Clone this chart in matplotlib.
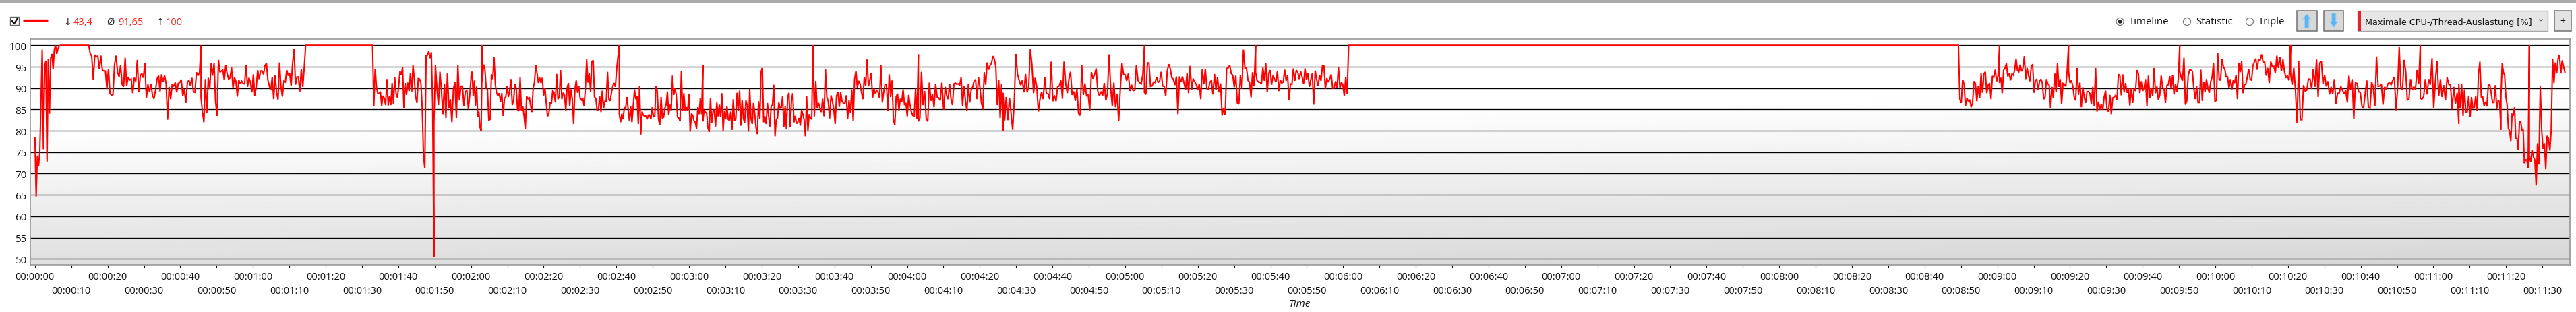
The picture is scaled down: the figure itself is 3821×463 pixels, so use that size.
import numpy as np
import matplotlib
matplotlib.use('Agg')
import matplotlib.pyplot as plt
from matplotlib.patches import Rectangle, Circle, Polygon

plt.rcParams['font.family'] = ['Open Sans', 'DejaVu Sans']

# valores, por tramos: (inicio, fin, valores)
rise = [78.4,64.6,74.2,71.8,75,87,99,75.7,95,96.3,72.8,96.8,84,97,98,94.5,99,100,98,99.2,99.8,100]
run_a = [100,98.1,97.4,91.9,97.8,97.4,97.5,94.4,97.6,94.2,94,94,89.8,94.5,88.8,88.3,88.5,95.5,97.6,93.7,92.6,95.4,90.9,90.3,97.1,90.5,92.6,91.9,92.1,88.8,92.4,91.6,96.6,89,92.9,93.4,92.4,95.8,87.6,90.9,89.1,90.9,88.4,87.5,89.4,92.1,92.9,89.2,93.2,91.4,92.9,91.1,82.6,90.3,87.4,90.9,90.4,91.3,89,91.1,91.3,92,88.2,89.8,86.5,91.3,91.9,90.6,92.4,89.1,89,93.7,92.9,93.5,100]
run_b = [87.8,84.4,82,92.1,84.2,92.4,89.8,95.8,92.9,95.8,86.9,83.5,96.6,93.7,94,94.2,91.9,95.3,93.4,92.1,92.4,94.8,90,92.5,91.6,88,91.9,91,91.6,91,91,95.4,90.3,92.4,91.4,89,93.2,88.2,90.3,94.2,92.1,94,94,93.2,95.3,95.8,91.9,90.5,89.5,92.6,87.4,93,89,87.3,96,90.3,88,91.6,91.4,94.2,92.9,93.4,90.5,95.8,99.2,90.8,92.6,92.6,89.2,94.5,90.3,94.8,100]
run_c = [100,85.8,94.5,90.3,88.8,88.7,89.2,85.8,88.2,87.6,86,92.1,85.9,88.2,86,91.2,86.3,92.5,88.8,87.8,90.3,94,93,94.9,85.3,91.2,88.4,91.3,89.3,93.4,89.2,95.3,91.9,88,86.5,92.2,92.1,91.3,85.5,74.2,71.2,97.6,97.7,98.6,97,98.4,86,50.4]
run_d = [81.9,95.3,90,86,93.8,89.5,83.9,91,83,93.4,85.3,87.4,82,89.8,91.4,83,95.4,87.1,90.3,90.6,85.8,89.2,89.4,85,88.7,93.7]
run_e = [93.7,88.2,91.8,85.8,90.4,83.2,84.5,80.8,80,100]
run_f = [91.6,95.5,94.5,90,89.7,82.4,82.7,93.2,92.1,97.3,90.8,88.8,88.2,88.8,86.8,88.8,83.5,87.6,87.9,90.4,87.9,89.5,92.1,86,87.1,91,90,85,84.6,92.5,84.8,85.8,83.5,80.5,88.1,87.4,87.9,86,84.4,90,91.4,95.4,93.4,91.2,92.4,91.2,92.4,88.2,90.1,86.6,83.4,84,86.6,86.3,89.5,88.9,86.6,93.3,87.4,87.9,94.2,87.4,88.9,88.4,84.7,90,91.2,85.8,89.7,87.4,81.6,89.7,91.8,88.9,90.5,87.6,87.2,87.7,85.8,89.7,96.7,91.3,93.4,89.1,96.2,96.5,87.9,87.6,84.7,85,88.1,84.4,89.4,85.3,86.9,86.9,93.8,87.4,87,88.9,90.5,91.2,90.3,94.5,97.4,100]
run_g = [84,82,84,82.7,85.5,85.1,87.9,85.1,82.3,85.7,82,85.7,89.7,87.4,88.2,81.6,90.5,79.1,84.5,83.7,83.4,83.5,82.7,83.7,83.7,82.7,85.5,83.3,83.5,90.5,89.2,82.7,81.4,87.9,82.9,83.2,85.3,86.1,89.2,83.7,86.1,84.8,92.9,88.4,90,88.4,83.2,83,82.3,94,84.7,88.8,84.7,85.5,84.7,88.6,79.8,83.9,83.7,82.3,82,80.5,85.5,83.9,87.6,83.9,95.3]
run_h = [82.2,84.9,84.4,84.1,80.7,79.7,87.7,81.9,84.5,85,81,86.6,83.4,86.1,83.2,88.8,80,84.7,82.7,85.8,82.7,82.4,84.5,80.2,87.4,82.4,82.7,88.9,84.7,89.4,81.2,87.2,82.9,81.9,87.1,86,79.8,89.8,82.9,81.6,86.5,84,80.7,79.2,86.9,82.7,93.8,94.7,82,83.4,81.6,86.5,83.4,81,85.8,86,90.8,78.7,82.7,83,86.6,85.3,85.5,88.1,80.9,85.7,80.4,87.9,88.9,80.8,87.1,88.8,82,83.5,81.7,82,83,81.2,84.9,83.9,82.6,78.7,88.1,80,83.9,83,82.7,100]
run_i = [99.6,83.4,91.7,85.3,86.5,85.3,84.4,87.5,83.4,94.5,87.9,86.9,82.9,88.3,86.9,85,81.6,88.2,89,85.6,89,86.9,86.4,86.4,88.3,82.7,87.1,84.2,89.7,82.3,92.1,94,90.1,91.7,91,89,87.4,92.6,90.5,96.7,90.4,91.9,93.4,87.7,89.9,88.7,89.4,89,87.6,95.4,86.6,89.1,90.9,90.8,84.7,93.2,87.9,91.8,82.7,81.3,88,88.7,84.8,87.5,86.7,89.7,86,86.5,83.4,88.4,86,84.4,83.6,83.5,89.9,82.7,97.9]
run_j = [82.2,83.1,93.8,86,89.3,82.9,82.2,91.3,87,88.6,85.5,91,87.9,87.7,87.1,91.3,85.5]
run_k = [85,90.3,88.2,87.4,91,87.4,86,91,91.2,90.9,91,90.7,92.5,85.8,90.4,87.1,84.6,91,86.6,89.7,90.3,91.7,92,87.4,92.5,90.3,86.6,85,93.7,90.8,96,94.3,95.3,95.8,97.5,96.8,95,86,91.9,83,91,80]
run_l = [88.9,82.4,87.9,82.5,87.7,84.1,80.2,87.1,98,93.2,91.9,90.7,91.8,89,93.3,89,90.5,99.1,95.5,88.8,92.4,90.3,84.5,87.4,89.1,87.4,92.5,88.7,88.7,87.4,96.2,86.9,88.3,86.9,90.4,90.5,91.8,87.5,96.2,91.1,88.8,92.1,93.8,88.4,89.2,87,89.8,84.1,83.6,95.4,88.4,91.1,88.2,88.4,84.8,93.7,92.2,93.2,94.6,89.2,88.2,89.2,88.2,91.2,87.1,88.7,97.9,90,85.8,91.3,85.5,88.5,82.3,89.8,95.9,93.2,93.1,91.7,93.4,89.3,90.8,89.4,89.5,95.3,91.8,91.3,91,93.1,100]
run_m = [89,88.5,95.9,95.9,90.4,90.5,91.4,91.3,92.6,91.3,91.7,93.8,90.5,90.4,88.1,94,95.6,94.5,92.4,92.1,90.7,92.7,83.9,92.7,91.4,92.7,91.2,89.6,93.5,88.8,95.2,89.6,92.2,91.5,90.9,89.6,91,87.4,94.5,90.9,94.5,89.9,89.7,91.4,91.8,88.5,93.3,89.6,92.5,89,91.1,83.6,85.3,83.7,94.6,94.7,95.4,93.4,93,90.2,92.9,86.5,86.2,93,89.8,99,94.7,94.7,91.8,91.4,87.8,93.7,90.4,100]
run_n = [93.7,91.8,91.4,91.4,90.9,94.8,91.7,95.8,89,93.4,94.2,90.8,92.9,92.1,91.4,93.9,89.3,91.9,91.2,91.4,94.3,91.7,93,87.2,91,90.9,94.6,91.7,94.2,93.7,92.1,93.9,92.6,91,94.6,91.9,93.5,90.3,92,93.4,86.1,94.1,92,90.5,93.1,91.7,95.3,95.2,89.8,92.3,91.4,92.1,93.2,90,90,91.6,90,94.9,90,91.4,90.8,88.2,92.6,88.6,100]
run_o = [100,87.4,86.5,92,90.9,85.8,87.6,86.9,87.3,85.5,86.6,91.6,91.1,86.9,90.4,87.6,93.4,88.9,93.3,93.8,88.8,90.7,91.2,87.4,92.8,92.5,94.3,91.6,92.9,100]
run_p = [91.2,92.4,88.8,94.2,94.7,95.8,92.7,93.5,91.8,93.3,93,94.2,96.9,94.1,93.8,95.5,93.9,94.7,97.5,92.1,94.7,93,91.6,94.9,95.6,88.9,91.8,92.1,89.5,91.6,92.1,91.2,87.4,87.8,92.1,91,90.7,85.3,90.3,87.6,93.4,89,95.8,90.3,92.1,86.2,91.1,90.9,90.4,94,100]
run_q = [94,91.2,91.8,90.5,87.9,87.1,94.7,88.4,91.3,85.5,90.2,87.9,86.5,89.2,89.2,88.7,86.3,90.3,85.8,94.7,84.5,86.8,84.9,86.3,84.9,87.9,89.4,85,84.5,88.4,83.9,87.7,87.9,88.3,87.3,93.2,92.9,88.3,93.2,89,91.2,88.9,89.9,85.9,90,86.5,90,89.3,94.2,93.4,88.8,91.6,89.3,90,92.1,85.8,92.9,87.7,90.1,88.1,94.7,88.8,90.4,87.3,88.3,92.9,90.1,89.9,86.5,90.6,90.8,92.8,89.8,93,88.5,91,89.2,92.1,100]
run_r = [94,92.5,91.7,97.1,86.1,86.9,92.9,94.2,94.2,93.9,90,87.4,90.5,86.6,86.6,94.3,87,91.5,89.1,92.1,90,88.9,91.5,92.6,95.8,86.9,87.1,98.3,92.1,91.8,96.8,95,94.4,92.6,92.6,90,92.1,89.7,91.8,91.2,93.1,87.4,95.8,93.7,96.3,88.8,90.8,91,92.6,94.5,92.1,91.8,95.3,96.1,96.9,94.3,96.9]
run_s = [96.6,96.5,97.9,96,96.1,92.9,94.7,91.2,96.2,95,95.1,93.5,97.6,94.7,97.2,93.9,96.7,93.8,92.5,92.8,91.8,100]
run_t = [93.4,90.8,94.7,89.7,81.9,96.3,82.6,82.6,90.7,89.3,89.5,92.1,92.1,89.8,94.5,90.3,96.7,87.9,95.9,96.3,91,93.1,90.4,91.6,88.5,90.3,88.6,92.1,86.3,88.8,88.8,90.4,89.5,88.6,89.5,86.6,92.9,89.5,92.1,82.8,91.2,91.1,89.1,89,85.8,85.3,88.7,91.8,85.4,85.3,91.4,90.3,85.7,97.4,90.4,90.5,91,86.1,90.3,89.7,91,91.3,90.8,91.8,92.6,84.8,89.9,99.6,90.3,89.5,96.6,94,87.2,87.4,92.1,89.5,90.3,89.7,94.2,91,100]
run_u = [87.6,87.4,88,92.1,88.5,92.1,90.8,97,85.3,91.6,96.3,88.1,92.1,87.9,90.7,87.1,92.5,90.9,90.7,85,90.3,86.3,88.9,81.6]
run_v = [90.9,85.3,90.9,83.5,89.7,84.4,84.5,88.1,83.2,87.9,85.3,85.5,88.1,84.7,93.2,96.2,87.9,87.9,85.8,86.8,85.7,90.7,90.8,89,86.6,86.6,90.7,85.1,87.1,86.8,80.2]
run_w = [88.2,95.8,93.7,92.9,87.9,86,80.5,80,77.6,83.9,83.7,85.5,78.2,78.2,75.5,82.1,82.1,80.2,80.2,72.4,73.2,73.2,71.4,100]
run_x = [74.1,72.7,75.5,73.9,73.2,67.2,77.1,72.1,90.4,80.2,75.8,77.1,71,78.8,78.2,75.4,80.2,96.9,91.2,96,93.4,96.9,97.8,93.4,96.5,95,93.7]

runs = [
    (0, 7, rise), (14.8, 45.7, run_a), (45.7, 74.5, run_b), (92.9, 109.8, run_c),
    (109.8, 120.1, run_d), (120.3, 123.1, run_e), (123.1, 160.8, run_f),
    (160.8, 183.8, run_g), (183.8, 214.1, run_h), (214.1, 243.1, run_i),
    (243.1, 250.0, run_j), (250.1, 266.4, run_k), (266.4, 305.3, run_l),
    (305.3, 335.9, run_m), (335.9, 361.5, run_n), (529.3, 540.6, run_o),
    (540.6, 559.6, run_p), (559.6, 590.2, run_q), (590.2, 611.9, run_r),
    (611.9, 620.7, run_s), (620.7, 656.4, run_t), (656.4, 667.0, run_u),
    (667.0, 678.6, run_v), (678.6, 686.4, run_w), (686.4, 696.2, run_x),
]

y_ticks = [50, 55, 60, 65, 70, 75, 80, 85, 90, 95, 100]
stats = ['43,4', '91,65', '100']

def hms(s):
    return '%02d:%02d:%02d' % (s // 3600, s // 60 % 60, s % 60)

W, H = 3821, 464
fig = plt.figure(figsize=(W / 100, H / 100), dpi=100, facecolor='white')

# capa de la ventana, en pixeles
ui = fig.add_axes([0, 0, 1, 1])
ui.set_xlim(0, W)
ui.set_ylim(H, 0)
ui.axis('off')

ui.add_patch(Rectangle((0, 1), W, 5, fc='#ababab', ec='none'))
ui.add_patch(Rectangle((15.5, 26), 13, 12, fc='white', ec='#666666', lw=1))
ui.plot([18, 21, 26], [32, 36, 28], color='#111111', lw=1.6)
ui.plot([34, 71], [31, 31], color='#ff0000', lw=2.4, solid_capstyle='butt')

red = '#f5281e'
ui.text(99.5, 33.5, '↓', ha='center', va='center', fontsize=10, color='#222222')
ui.text(108.5, 33.5, stats[0], ha='left', va='center', fontsize=10.5, color=red)
ui.text(164, 33.5, 'Ø', ha='center', va='center', fontsize=10.5, color='#222222')
ui.text(175, 33.5, stats[1], ha='left', va='center', fontsize=10.5, color=red)
ui.text(236.5, 33.5, '↑', ha='center', va='center', fontsize=10, color='#222222')
ui.text(246, 33.5, stats[2], ha='left', va='center', fontsize=10.5, color=red)

for cx, label, on in [(3144.6, 'Timeline', True), (3244, 'Statistic', False), (3337, 'Triple', False)]:
    ui.add_patch(Circle((cx, 33), 5.5, fc='white', ec='#777777', lw=0.9))
    if on:
        ui.add_patch(Circle((cx, 33), 2.8, fc='#222222', ec='none'))
    ui.text(cx + 13, 33, label, ha='left', va='center', fontsize=10.8, color='#111111')

# botones de flechas
for x0 in [3407.3, 3447]:
    ui.add_patch(Rectangle((x0, 17), 29.5, 29.7, fc='#d8d8d8', ec='#707070', lw=1.1))
cx = 3421.7
ui.add_patch(Polygon([(cx, 21.7), (cx + 6, 29), (cx + 3.2, 29), (cx + 3.2, 42.7), (cx - 3.2, 42.7), (cx - 3.2, 29), (cx - 6, 29)],
                     fc='#5fb4ee', ec='#9ad2f5', lw=0.8))
cx = 3461.7
ui.add_patch(Polygon([(cx, 41.7), (cx + 6, 33), (cx + 3.2, 33), (cx + 3.2, 20.7), (cx - 3.2, 20.7), (cx - 3.2, 33), (cx - 6, 33)],
                     fc='#5fb4ee', ec='#9ad2f5', lw=0.8))

ui.add_patch(Rectangle((3497, 17), 282, 30, fc='#e6e6e6', ec='#a8a8a8', lw=1))
ui.add_patch(Rectangle((3497, 17), 5, 30, fc='#e4202c', ec='none'))
ui.text(3508, 33, 'Maximale CPU-/Thread-Auslastung [%]', ha='left', va='center', fontsize=9.2,
        family=['DejaVu Sans'], color='#111111')
ui.plot([3766.5, 3769, 3771.5], [30, 32, 30], color='#555555', lw=0.7)
ui.add_patch(Rectangle((3789, 17), 25, 30, fc='#e2e2e2', ec='#707070', lw=1.1))
ui.text(3801.5, 33, '+', ha='center', va='center', fontsize=10, color='#111111')

# grafico
ax = fig.add_axes([44.6 / W, 1 - 394.3 / H, (3811.6 - 44.6) / W, 335 / H])
ax.set_xlim(-1.34, 697.5)
ax.set_ylim(48.58, 101.42)

# degradado de fondo: blanco arriba, gris abajo, algo mas oscuro a la derecha
yy = np.linspace(0, 1, 200)[:, None]
xx = np.linspace(0, 1, 200)[None, :]
start = 0.40 - 0.19 * xx
shade = np.clip((yy - start) / (1 - start), 0, 1)
bg = 1 - shade * (0.125 + 0.035 * xx)
ax.imshow(bg, extent=[-1.34, 697.5, 48.58, 101.42], origin='upper', aspect='auto', cmap='gray', vmin=0, vmax=1, zorder=0)

ax.set_yticks(y_ticks)
ax.tick_params(axis='y', length=0, pad=3.5, labelsize=11, labelcolor='#111111')
ax.grid(axis='y', color='black', lw=0.95, zorder=1)
ax.set_axisbelow(True)

times = []
values = []
for t0, t1, vals in runs:
    times.extend(np.linspace(t0, t1, len(vals)))
    values.extend(vals)
ax.plot(times, values, color='#ff0000', lw=1.5, solid_joinstyle='miter', zorder=3)

major = list(range(0, 691, 20))
minor = list(range(10, 691, 20))
ax.set_xticks(major)
ax.set_xticklabels([hms(s) for s in major])
ax.set_xticks(minor, minor=True)
ax.set_xticklabels([hms(s) for s in minor], minor=True)
ax.tick_params(axis='x', which='major', length=3, width=0.8, pad=4, labelsize=10.5, labelcolor='#111111')
ax.tick_params(axis='x', which='minor', length=3, width=0.8, pad=19, labelsize=10.5, labelcolor='#111111')
ax.set_xlabel('Time', fontsize=11, style='italic', color='#111111', labelpad=3)

for s in ax.spines.values():
    s.set_color('#999999')
    s.set_linewidth(1.2)

fig.savefig('out.png', dpi=100)
